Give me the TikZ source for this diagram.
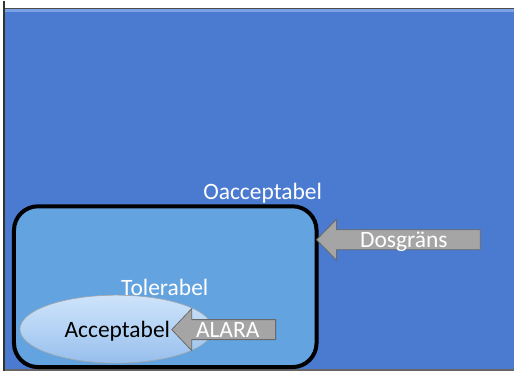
\documentclass[tikz,border=0pt]{standalone}
\usepackage{fontspec}
\setmainfont{Carlito}
\usepackage{tikz}
\usetikzlibrary{positioning,shapes.geometric}

\definecolor{slideblue}{RGB}{74,123,208}
\definecolor{bandblue}{RGB}{122,160,230}
\definecolor{boxblue}{RGB}{98,163,224}
\definecolor{arrowgray}{RGB}{165,165,165}
\definecolor{arrowline}{RGB}{105,105,105}
\definecolor{glosstop}{RGB}{205,227,250}
\definecolor{glossmid}{RGB}{180,211,245}
\definecolor{glossbot}{RGB}{150,190,236}

\begin{document}
\begin{tikzpicture}[x=1pt, y=-1pt,
  every node/.style={inner sep=0pt, font=\fontsize{23.5}{27}\selectfont},
  whitetext/.style={text=white, anchor=base},
  zonebox/.style={draw=black, line width=4pt, rounded corners=24pt, fill=boxblue, minimum width=303pt, minimum height=161pt},
  glossy/.style={ellipse, draw=black!35, line width=0.6pt, top color=glosstop, bottom color=glossbot, middle color=glossmid, minimum width=193pt, minimum height=68pt},
  grayarrow/.style={fill=arrowgray, draw=arrowline, line width=0.8pt}]
% slide background
\fill[white] (0,0) rectangle (515,371);
\fill[slideblue] (5,7) rectangle (515,371);
\fill[bandblue] (5,8) rectangle (515,11);
\draw[black!70, line width=1pt] (5,7.5) -- (515,7.5);
\draw[black!80, line width=1.2pt] (4,0) -- (4,371);
\draw[black!60, line width=1.5pt] (5,370) -- (515,370);
% zones
\node[zonebox] (tolbox) at (165.5,286.5) {};
\node[whitetext] (oaccept) at (263,199) {Oacceptabel};
\node[whitetext] (toler) at (165,295) {Tolerabel};
\node[glossy] (accept) at (116.5,329) {};
\node[anchor=base] (accepttext) at (117.5,337) {Acceptabel};
% arrows
\coordinate (dostip) at (317,239.5);
\coordinate (alaratip) at (172,329.5);
\draw[grayarrow] (dostip) -- ++(20,-20.5) -- ++(0,10.5) -- ++(144,0) -- ++(0,20) -- ++(-144,0) -- ++(0,10.5) -- cycle;
\draw[grayarrow] (alaratip) -- ++(20,-21) -- ++(0,11) -- ++(84,0) -- ++(0,20) -- ++(-84,0) -- ++(0,11) -- cycle;
\node[whitetext] (dosgrans) at (404.5,247) {Dosgräns};
\node[whitetext] (alara) at (228,337) {ALARA};
\end{tikzpicture}
\end{document}
